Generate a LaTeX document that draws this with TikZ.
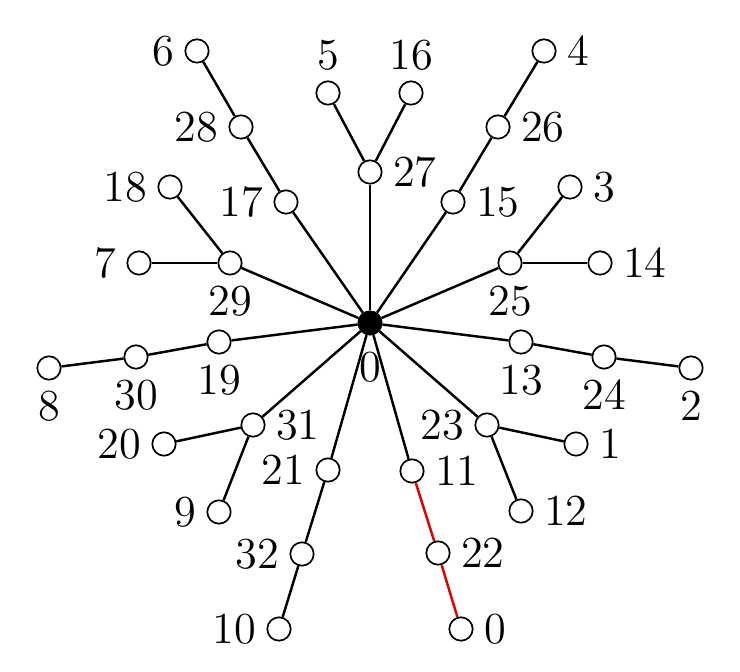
\documentclass[tikz,border=0pt]{standalone}
\usepackage{tikz}
\usetikzlibrary{positioning}
\definecolor{edgered}{RGB}{225, 0, 0}

\begin{document}
\begin{tikzpicture}[x=0.325pt, y=-0.325pt,
    vert/.style={draw, circle, line width=0.55pt, minimum size=7.6pt, inner sep=0pt},
    hub/.style={vert, fill=black},
    edge/.style={line width=0.8pt},
    every label/.style={font=\Large, inner sep=3.2pt}]
    \useasboundingbox (0,0) rectangle (740,672);
    % centre
    \node[hub, label={[label distance=2pt]below:0}] (root) at (370,323) {};
    % all other vertices: name/label/x/y/label side
    \foreach \n/\t/\x/\y/\p in {
        27/27/370/172/right, 5/5/328/93/above, 16/16/411/93/above,
        17/17/286/202/left, 28/28/241/127/left, 6/6/197/51/left,
        15/15/453/202/right, 26/26/498/127/right, 4/4/544/51/right,
        25/25/510/263/below, 3/3/570/187/right, 14/14/600/263/right,
        29/29/230/263/below, 18/18/170/187/left, 7/7/139/263/left,
        19/19/219/342/below, 30/30/136/357/below, 8/8/49/368/below,
        13/13/521/342/below, 24/24/604/357/below, 2/2/691/368/below,
        31/31/253/425/right, 20/20/164/444/left, 9/9/219/512/left,
        21/21/328/470/left, 32/32/302/554/left, 10/10/279/629/left,
        11/11/412/471/right, 22/22/438/553/right, z/0/461/629/right,
        23/23/487/425/left, 1/1/576/444/right, 12/12/521/511/right}
        \node[vert, label=\p:\t] (n\n) at (\x,\y) {};
    % spokes
    \foreach \b in {27,17,15,25,29,19,13,31,21,11,23}
        \draw[edge] (root) -- (n\b);
    \foreach \a/\b in {27/5, 27/16, 17/28, 28/6, 15/26, 26/4, 25/3, 25/14,
        29/18, 29/7, 19/30, 30/8, 13/24, 24/2, 31/20, 31/9, 21/32, 32/10,
        23/1, 23/12}
        \draw[edge] (n\a) -- (n\b);
    \draw[edge, edgered] (n11) -- (n22) -- (nz);
\end{tikzpicture}
\end{document}
